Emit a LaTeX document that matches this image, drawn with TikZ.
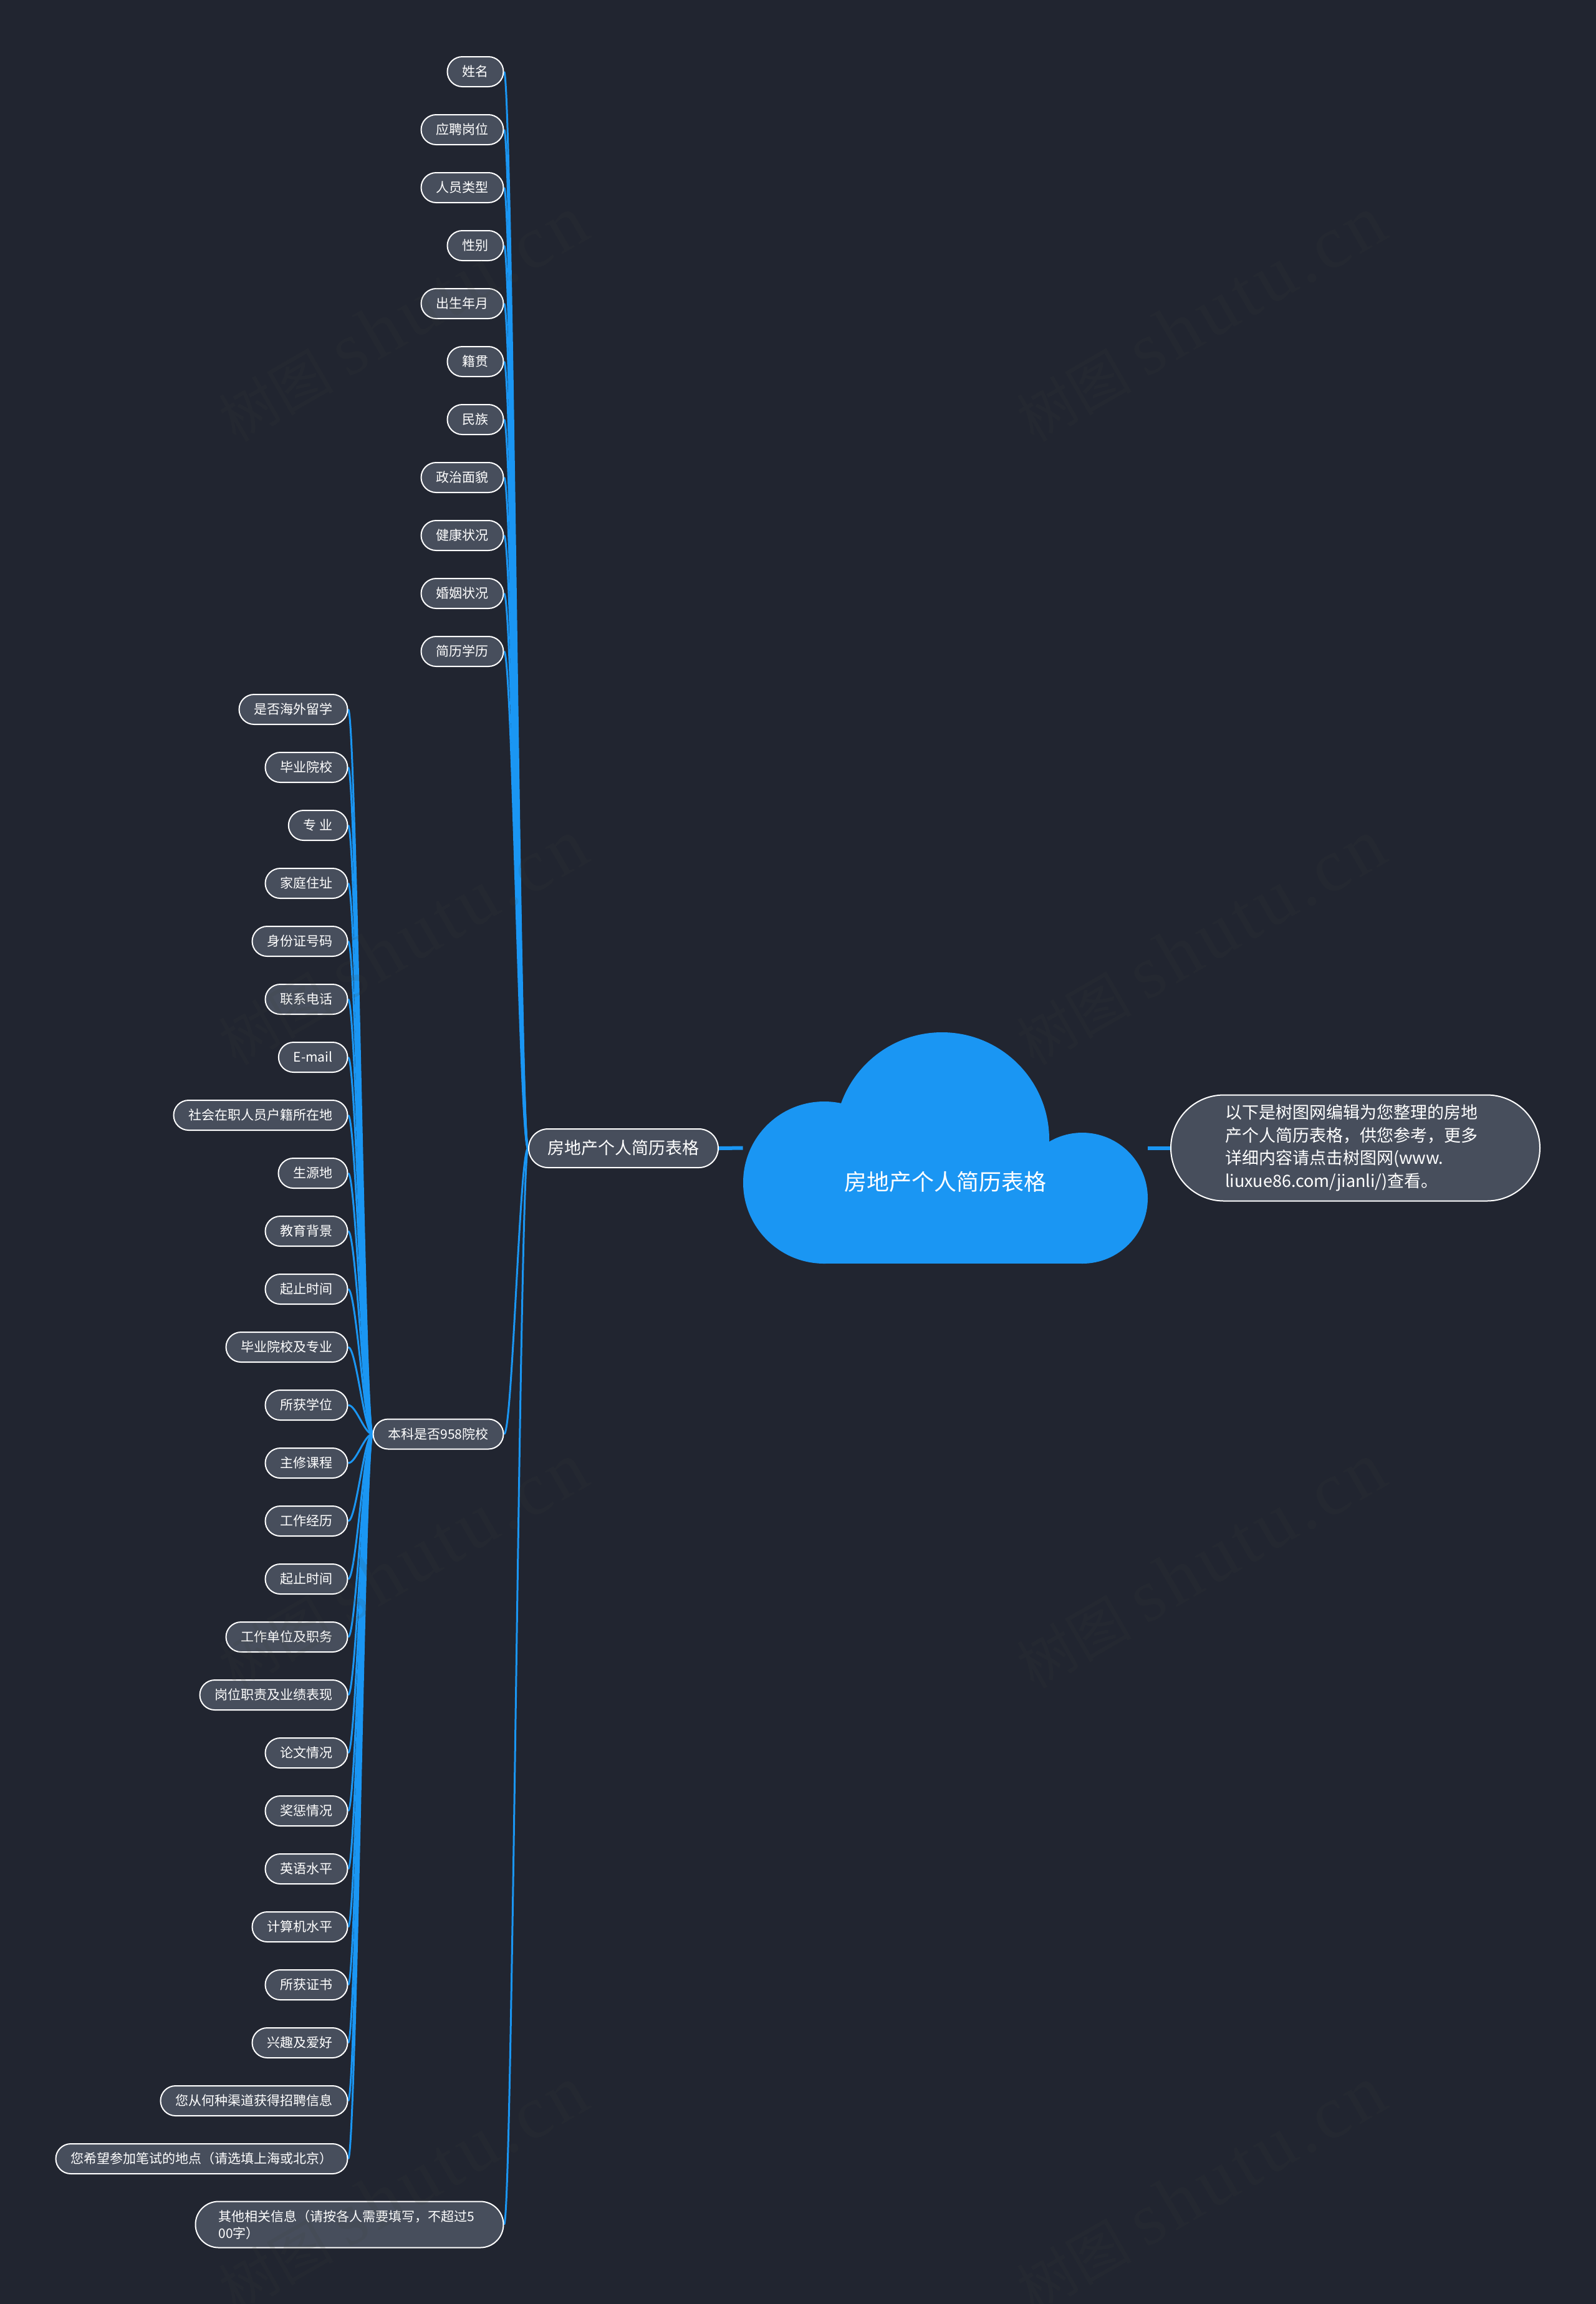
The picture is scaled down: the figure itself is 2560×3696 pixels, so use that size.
\documentclass[tikz,border=0pt]{standalone}
\usepackage{fontspec}
\setmainfont{Noto Sans CJK SC}
\newfontfamily\wmlatin[LetterSpace=6]{Liberation Serif}
\usetikzlibrary{backgrounds}
\definecolor{bgdark}{RGB}{33,37,48}
\definecolor{pillfill}{RGB}{71,78,92}
\definecolor{accent}{RGB}{26,150,243}
\definecolor{wmark}{RGB}{63,65,58}
\tikzset{
  pillbase/.style={rectangle,draw=white,line width=1pt,fill=pillfill,text=white,inner ysep=0pt},
  leaf/.style={pillbase,anchor=east,rounded corners=12pt,minimum height=24pt,inner xsep=12pt,
    font=\fontsize{10.5pt}{13.5pt}\selectfont,text height=9.2pt,text depth=1.5pt},
  tallleaf/.style={pillbase,anchor=east,rounded corners=18.5pt,minimum height=37pt,inner xsep=18.5pt,
    text width=210pt,align=left,font=\fontsize{10.5pt}{13.5pt}\selectfont},
  mainbranch/.style={pillbase,rounded corners=15.5pt,minimum height=31pt,minimum width=152pt,
    font=\fontsize{13.5pt}{16pt}\selectfont,text height=11.4pt,text depth=2.2pt},
  notebox/.style={pillbase,rounded corners=42.5pt,minimum height=85pt,inner xsep=43.5pt,text width=209pt,
    align=left,font=\fontsize{13.5pt}{18.3pt}\selectfont},
  cloudbox/.style={rectangle,draw=none,inner sep=0pt,minimum width=324.5pt,minimum height=185.5pt},
  roottext/.style={text=white,inner sep=0pt,font=\fontsize{18pt}{22pt}\selectfont},
  link/.style={draw=accent,line width=1.5pt},
  trunk/.style={draw=accent,line width=3pt},
  cloudfill/.style={fill=accent},
  watermark/.style={rotate=30,text=wmark,text opacity=.13,inner sep=0pt},
}
\begin{document}
\begin{tikzpicture}[x=0.5pt,y=-0.5pt]
\useasboundingbox (0,0) rectangle (2560,3696);
% cloud
\fill[cloudfill] (1322,1897) circle[radius=65pt];
\fill[cloudfill] (1511,1828) circle[radius=86pt];
\fill[cloudfill] (1736,1922) circle[radius=52.5pt];
\fill[cloudfill] (1322,1860) rectangle (1736,2027);
\node[cloudbox] (cloud) at (1516.5,1841.5) {};
\node[roottext] (roottxt) at (1516,1896) {房地产个人简历表格};
% main nodes
\node[mainbranch] (main) at (1000,1842) {房地产个人简历表格};
\node[notebox] (note) at (2174,1841.5) {以下是树图网编辑为您整理的房地\\产个人简历表格，供您参考，更多\\详细内容请点击树图网(www.\\liuxue86.com/jianli/)查看。};
\node[leaf] (edu) at (808.5,2300.5) {本科是否958院校};
\node[tallleaf] (other) at (808.5,3568.5) {其他相关信息（请按各人需要填写，不超过5\\00字）};
% first group
\foreach \i/\t in {0/姓名,1/应聘岗位,2/人员类型,3/性别,4/出生年月,5/籍贯,6/民族,7/政治面貌,8/健康状况,9/婚姻状况,10/简历学历}{
  \node[leaf] (a\i) at (808.5,115+93*\i) {\t};
}
% second group
\foreach \i/\t in {0/是否海外留学,1/毕业院校,2/专 业,3/家庭住址,4/身份证号码,5/联系电话,6/E-mail,7/社会在职人员户籍所在地,8/生源地,9/教育背景,10/起止时间,11/毕业院校及专业,12/所获学位,13/主修课程,14/工作经历,15/起止时间,16/工作单位及职务,17/岗位职责及业绩表现,18/论文情况,19/奖惩情况,20/英语水平,21/计算机水平,22/所获证书,23/兴趣及爱好,24/您从何种渠道获得招聘信息,25/您希望参加笔试的地点（请选填上海或北京）}{
  \node[leaf] (b\i) at (558.5,1138+93*\i) {\t};
}
% connectors and background
\begin{pgfonlayer}{background}
  \fill[bgdark] (0,0) rectangle (2560,3696);
  \foreach \i in {0,...,10}{
    \draw[link] (a\i.east) .. controls +(13.5,0) and +(-13.5,0) .. (main.west);
  }
  \draw[link] (edu.east) .. controls +(13.5,0) and +(-13.5,0) .. (main.west);
  \draw[link] (other.east) .. controls +(13.5,0) and +(-13.5,0) .. (main.west);
  \foreach \i in {0,...,25}{
    \draw[link] (b\i.east) .. controls +(13,0) and +(-13,0) .. (edu.west);
  }
  \draw[trunk] (main.east) -- (cloud.west);
  \draw[trunk] (cloud.east) -- (note.west);
\end{pgfonlayer}
% watermarks
\foreach \cx in {646,1926}{
  \foreach \cy in {512,1512,2512,3512}{
    \node[watermark] (wm\cx-\cy) at (\cx,\cy) {\fontsize{46pt}{46pt}\selectfont 树图\hspace{12pt}\fontsize{60pt}{60pt}\selectfont\wmlatin shutu.cn};
  }
}
\end{tikzpicture}
\end{document}
